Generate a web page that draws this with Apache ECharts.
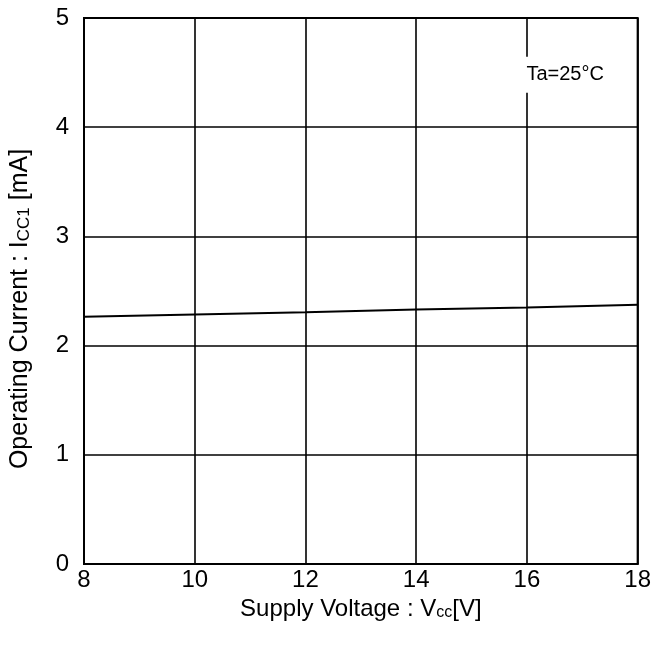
<!DOCTYPE html>
<html>
<head>
<meta charset="utf-8">
<script src="https://cdn.jsdelivr.net/npm/echarts@6/dist/echarts.min.js"></script>
<style>
  html, body { margin: 0; padding: 0; background: #fff; }
  #chart { width: 654px; height: 653px; }
</style>
</head>
<body>
<div id="chart"></div>
<script>
// Supply voltage (V) and operating current (mA) at Ta = 25°C
const supplyVoltage = [8, 10, 12, 14, 16, 18];
const operatingCurrent = [2.265, 2.285, 2.305, 2.33, 2.35, 2.375];
const xTicks = [8, 10, 12, 14, 16, 18];
const yTicks = [0, 1, 2, 3, 4, 5];
const conditionLabel = 'Ta=25°C';
const conditionPos = [16.69, 4.48];

const font = '"Liberation Sans", Arial, sans-serif';
const chart = echarts.init(document.getElementById('chart'), null, { renderer: 'canvas' });

chart.setOption({
  animation: false,
  backgroundColor: '#fff',
  grid: { left: 82, right: 16, top: 18, bottom: 89, show: true, borderColor: '#000', borderWidth: 2 },
  xAxis: {
    type: 'value',
    min: xTicks[0], max: xTicks[xTicks.length - 1], interval: 2,
    axisLine: { show: true, lineStyle: { color: '#000', width: 2 } },
    axisTick: { show: false },
    splitLine: { show: true, lineStyle: { color: '#000', width: 1.6 } },
    axisLabel: { color: '#000', fontSize: 24, fontFamily: font, margin: 4 },
    name: '{a|Supply Voltage : V}{s|cc}{a|[V]}',
    nameLocation: 'middle', nameGap: 33,
    nameTextStyle: {
      rich: {
        a: { fontSize: 24, fontFamily: font, color: '#000' },
        s: { fontSize: 16, fontFamily: font, color: '#000', verticalAlign: 'bottom', padding: [5, 0, 0, 0] }
      }
    }
  },
  yAxis: {
    type: 'value',
    min: yTicks[0], max: yTicks[yTicks.length - 1], interval: 1,
    axisLine: { show: true, lineStyle: { color: '#000', width: 2 } },
    axisTick: { show: false },
    splitLine: { show: true, lineStyle: { color: '#000', width: 1.6 } },
    axisLabel: { color: '#000', fontSize: 24, fontFamily: font, margin: 15 },
    name: '{a|Operating Current : I}{s|CC1}{a| [mA]}',
    nameLocation: 'middle', nameGap: 51, nameRotate: 90,
    nameTextStyle: {
      padding: [0, 36, 0, 0],
      rich: {
        a: { fontSize: 25, fontFamily: font, color: '#000' },
        s: { fontSize: 17, fontFamily: font, color: '#000', verticalAlign: 'bottom', padding: [5, 0, 0, 0] }
      }
    }
  },
  series: [{
    type: 'line',
    data: supplyVoltage.map((v, i) => [v, operatingCurrent[i]]),
    symbol: 'none',
    lineStyle: { color: '#000', width: 2 },
    z: 3,
    markPoint: {
      symbol: 'rect', symbolSize: 1,
      itemStyle: { color: 'rgba(0,0,0,0)' },
      data: [{ coord: conditionPos }],
      label: {
        show: true, position: 'inside',
        formatter: conditionLabel,
        color: '#000', fontSize: 20, fontFamily: font,
        backgroundColor: '#fff', padding: [8, 4, 8, 4]
      }
    }
  }]
});
</script>
</body>
</html>
